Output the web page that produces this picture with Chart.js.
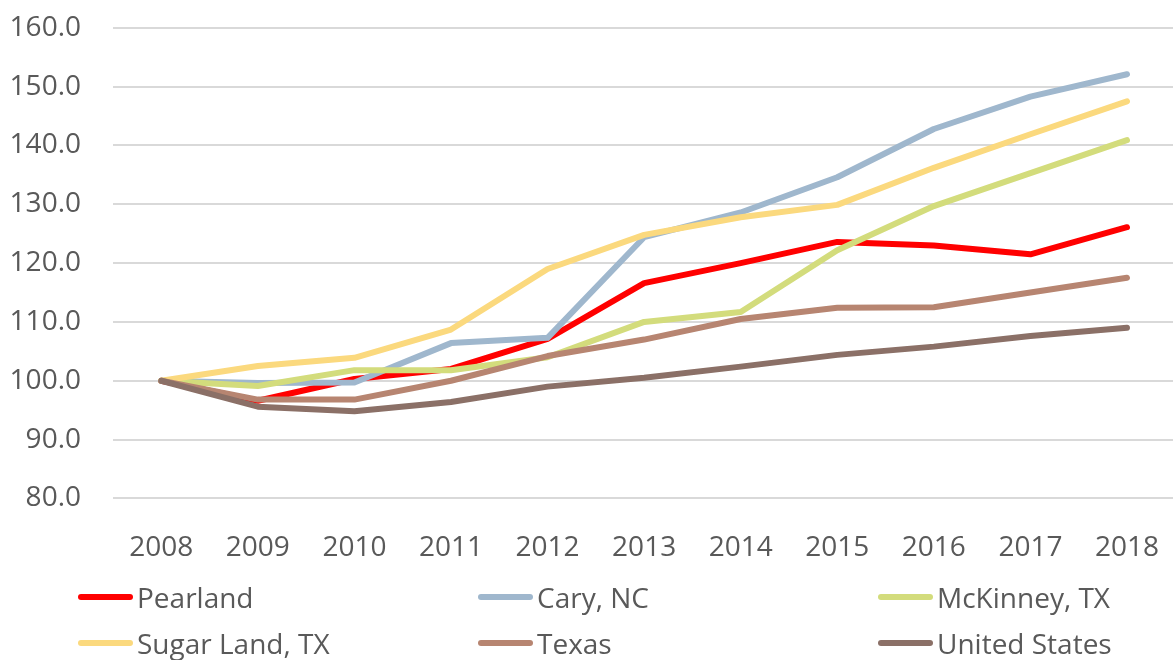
<!DOCTYPE html>
<html>
<head>
<meta charset="utf-8">
<script src="https://cdn.jsdelivr.net/npm/chart.js@4/dist/chart.umd.min.js"></script>
<style>
  html, body { margin: 0; background: #fff; overflow: hidden; font-family: "Open Sans", "Noto Sans", sans-serif; }
  #wrap { position: absolute; left: 0; top: -21px; width: 1192px; height: 619px; }
  #legend { position: absolute; left: 0; top: 0; width: 1173px; height: 660px; }
  .item { position: absolute; display: flex; align-items: center; font-size: 28px; color: #595959; height: 40px; }
  .item span.sw { display: inline-block; width: 55px; height: 6px; border-radius: 3px; margin-right: 4px; }
</style>
</head>
<body>
<div id="wrap"><canvas id="chart"></canvas></div>
<div id="legend"></div>
<script>
const years = ['2008','2009','2010','2011','2012','2013','2014','2015','2016','2017','2018'];

const pearland  = [100, 96.6, 100.3, 102.0, 107.1, 116.6, 120.0, 123.6, 123.0, 121.5, 126.1];
const cary      = [100, 99.6, 99.7, 106.4, 107.3, 124.4, 128.6, 134.6, 142.8, 148.3, 152.1];
const mckinney  = [100, 99.1, 101.8, 101.8, 104.0, 110.0, 111.7, 122.2, 129.7, 135.3, 140.9];
const sugarLand = [100, 102.5, 103.9, 108.7, 119.0, 124.8, 127.8, 129.9, 136.2, 141.9, 147.5];
const texas     = [100, 96.8, 96.8, 100.0, 104.2, 107.0, 110.5, 112.4, 112.5, 115.0, 117.5];
const us        = [100, 95.6, 94.8, 96.4, 99.0, 100.5, 102.4, 104.4, 105.8, 107.6, 109.0];

const seriesNames = ['Pearland', 'Cary, NC', 'McKinney, TX', 'Sugar Land, TX', 'Texas', 'United States'];
const seriesData = [pearland, cary, mckinney, sugarLand, texas, us];
const seriesColors = ['#ff0000', '#9fb7cd', '#d3dc7c', '#fbd97e', '#b78571', '#8b7067'];

const datasets = seriesNames.map((name, i) => ({
    label: name,
    data: seriesData[i],
    borderColor: seriesColors[i],
    backgroundColor: seriesColors[i],
    borderWidth: 6,
    pointRadius: 0,
    tension: 0,
    borderCapStyle: 'round',
    borderJoinStyle: 'round'
}));

const ctx = document.getElementById('chart');
const fontFam = '"Open Sans", "Noto Sans", sans-serif';

new Chart(ctx, {
    type: 'line',
    data: {
        labels: years,
        datasets: datasets.slice().reverse()
    },
    options: {
        responsive: true,
        maintainAspectRatio: false,
        animation: false,
        layout: { padding: 0 },
        scales: {
            y: {
                min: 80,
                max: 160,
                ticks: {
                    stepSize: 10,
                    color: '#595959',
                    font: { size: 28, family: fontFam },
                    padding: 32,
                    callback: v => v.toFixed(1)
                },
                grid: { color: '#d9d9d9', lineWidth: 2, drawTicks: false },
                border: { display: false },
                afterFit: axis => { axis.width = 113; }
            },
            x: {
                offset: true,
                ticks: {
                    color: '#595959',
                    font: { size: 28, family: fontFam },
                    padding: 33,
                    maxRotation: 0
                },
                grid: { display: false, drawTicks: false },
                border: { display: false }
            }
        },
        plugins: {
            legend: { display: false },
            tooltip: { enabled: false }
        }
    }
});

// legend in three columns like the original
const legend = document.getElementById('legend');
const colX = [78, 478, 878];
const rowY = [577, 623];
seriesNames.forEach((name, i) => {
    const item = document.createElement('div');
    item.className = 'item';
    item.style.left = colX[i % 3] + 'px';
    item.style.top = rowY[Math.floor(i / 3)] + 'px';
    const sw = document.createElement('span');
    sw.className = 'sw';
    sw.style.background = seriesColors[i];
    item.appendChild(sw);
    item.appendChild(document.createTextNode(name));
    legend.appendChild(item);
});
</script>
</body>
</html>
